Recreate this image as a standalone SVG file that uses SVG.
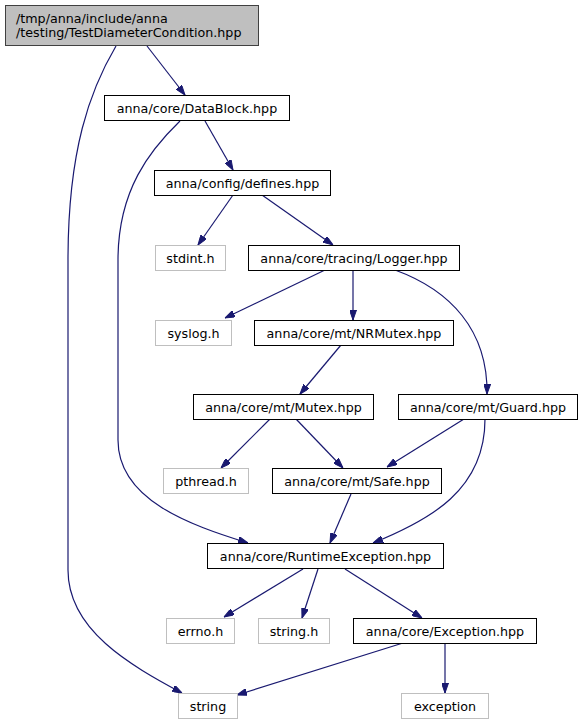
<svg xmlns="http://www.w3.org/2000/svg" width="582" height="724" viewBox="0 0 582 724">
<style>
.n rect{fill:#ffffff;stroke:#000000;stroke-width:1}
.x rect{fill:#ffffff;stroke:#bfbfbf;stroke-width:1}
.r rect{fill:#bfbfbf;stroke:#404040;stroke-width:1}
text{font-family:"DejaVu Sans","Liberation Sans",sans-serif;font-size:12.7px;fill:#000000}
.c{text-anchor:middle}
#edges path{fill:none;stroke:#191970;stroke-width:1.2;marker-end:url(#ah)}
</style>
<defs>
<marker id="ah" viewBox="0 0 10 7" refX="10" refY="3.5" markerWidth="10" markerHeight="7" orient="auto" markerUnits="userSpaceOnUse">
<path d="M0,0 L10,3.5 L0,7 z" fill="#191970" stroke="#191970" stroke-width="1"/>
</marker>
</defs>
<rect width="582" height="724" fill="#ffffff"/>
<g id="edges">
<path d="M147,46 L185,95"/>
<path d="M116,46 C90,90 68,150 68,260 L68,570 C68,630 130,665 182,693"/>
<path d="M205,121 L233,170"/>
<path d="M180,121 C150,150 118,190 118,260 L118,440 C118,500 190,525 248,543"/>
<path d="M233,195 L198,245"/>
<path d="M262,195 L333,245"/>
<path d="M325,270 L225,318"/>
<path d="M353,270 L353,320"/>
<path d="M395,270 C450,290 488,330 487,394"/>
<path d="M341,345 L300,394"/>
<path d="M270,419 L221,468"/>
<path d="M296,419 L343,468"/>
<path d="M464,419 L387,467"/>
<path d="M485,419 C485,490 430,520 373,543"/>
<path d="M351,494 L330,543"/>
<path d="M303,569 L224,617"/>
<path d="M318,569 L302,618"/>
<path d="M345,569 L422,618"/>
<path d="M403,643 L237,695"/>
<path d="M445,643 L445,693"/>
</g>
<g id="node1" class="r"><rect x="5.5" y="5.5" width="253" height="40"/><text x="16" y="23">/tmp/anna/include/anna</text><text x="16" y="37">/testing/TestDiameterCondition.hpp</text></g>
<g id="node2" class="n"><rect x="104.5" y="95.5" width="185" height="25"/><text class="c" x="197" y="112.5">anna/core/DataBlock.hpp</text></g>
<g id="node3" class="n"><rect x="154.5" y="170.5" width="176" height="25"/><text class="c" x="242.5" y="187.5">anna/config/defines.hpp</text></g>
<g id="node4" class="x"><rect x="155.5" y="245.5" width="70" height="25"/><text class="c" x="190.5" y="262.5">stdint.h</text></g>
<g id="node5" class="n"><rect x="248.5" y="245.5" width="211" height="25"/><text class="c" x="354" y="262.5">anna/core/tracing/Logger.hpp</text></g>
<g id="node6" class="x"><rect x="155.5" y="320.5" width="76" height="25"/><text class="c" x="193.5" y="337.5">syslog.h</text></g>
<g id="node7" class="n"><rect x="254.5" y="320.5" width="199" height="25"/><text class="c" x="354" y="337.5">anna/core/mt/NRMutex.hpp</text></g>
<g id="node8" class="n"><rect x="193.5" y="394.5" width="180" height="25"/><text class="c" x="283.5" y="411.5">anna/core/mt/Mutex.hpp</text></g>
<g id="node9" class="n"><rect x="398.5" y="394.5" width="179" height="25"/><text class="c" x="488" y="411.5">anna/core/mt/Guard.hpp</text></g>
<g id="node10" class="x"><rect x="163.5" y="468.5" width="85" height="25"/><text class="c" x="206" y="485.5">pthread.h</text></g>
<g id="node11" class="n"><rect x="272.5" y="468.5" width="169" height="25"/><text class="c" x="357" y="485.5">anna/core/mt/Safe.hpp</text></g>
<g id="node12" class="n"><rect x="207.5" y="543.5" width="236" height="25"/><text class="c" x="325.5" y="560.5">anna/core/RuntimeException.hpp</text></g>
<g id="node13" class="x"><rect x="166.5" y="618.5" width="68" height="25"/><text class="c" x="200.5" y="635.5">errno.h</text></g>
<g id="node14" class="x"><rect x="258.5" y="618.5" width="71" height="25"/><text class="c" x="294" y="635.5">string.h</text></g>
<g id="node15" class="n"><rect x="353.5" y="618.5" width="183" height="25"/><text class="c" x="445" y="635.5">anna/core/Exception.hpp</text></g>
<g id="node16" class="x"><rect x="178.5" y="693.5" width="59" height="25"/><text class="c" x="208" y="710.5">string</text></g>
<g id="node17" class="x"><rect x="401.5" y="693.5" width="87" height="25"/><text class="c" x="445" y="710.5">exception</text></g>
</svg>
